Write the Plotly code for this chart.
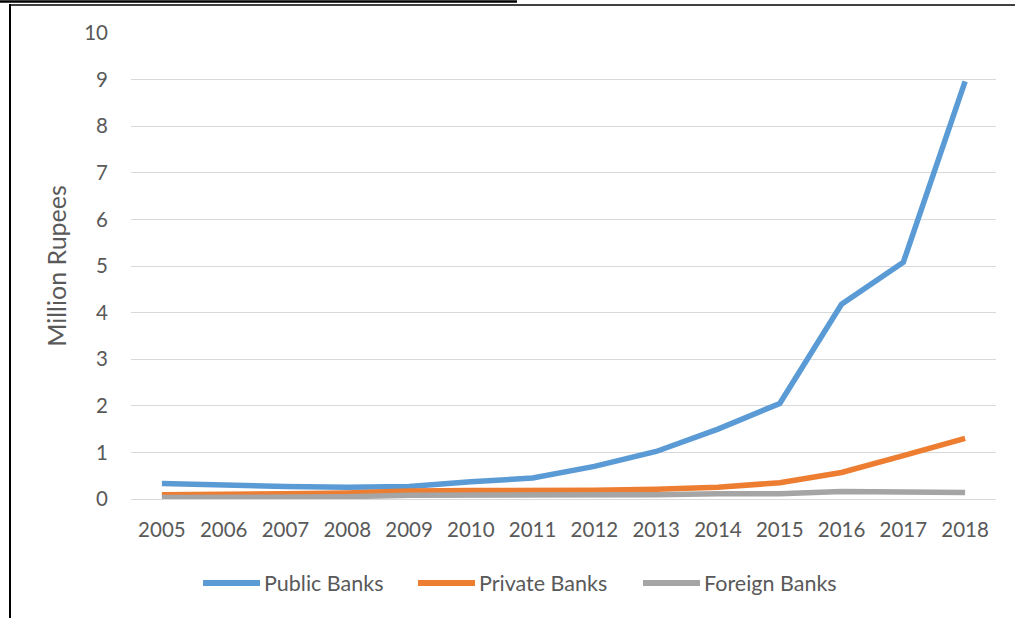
import plotly.graph_objects as go

# Deposits by bank group, million rupees
years = [2005, 2006, 2007, 2008, 2009, 2010, 2011, 2012, 2013, 2014, 2015, 2016, 2017, 2018]
public_banks = [0.33, 0.29, 0.27, 0.25, 0.27, 0.37, 0.45, 0.70, 1.02, 1.50, 2.05, 4.18, 5.08, 8.96]
private_banks = [0.09, 0.09, 0.11, 0.13, 0.17, 0.18, 0.18, 0.19, 0.21, 0.25, 0.35, 0.57, 0.93, 1.30]
foreign_banks = [0.03, 0.03, 0.04, 0.05, 0.08, 0.08, 0.07, 0.08, 0.09, 0.11, 0.11, 0.16, 0.14, 0.14]

series_names = ["Public Banks", "Private Banks", "Foreign Banks"]
series_values = [public_banks, private_banks, foreign_banks]
series_colors = ["#5B9BD5", "#ED7D31", "#A5A5A5"]

y_ticks = list(range(0, 11))

W, H = 1015, 618
ML, MR, MT, MB = 131, 19, 33, 119
PW, PH = W - ML - MR, H - MT - MB
FONT = "Lato"
TXT = "#595959"


def px(x):
    return (x - ML) / PW


def py(y):
    return (H - MB - y) / PH


fig = go.Figure()
for name, vals, col in zip(series_names, series_values, series_colors):
    fig.add_trace(go.Scatter(
        x=years, y=vals, name=name, mode="lines",
        line=dict(color=col, width=5.5),
        cliponaxis=False, showlegend=False,
    ))

shapes = []
annotations = []

# Legend row below the plot
legend_x = [203, 418, 643]
for lx, name, col in zip(legend_x, series_names, series_colors):
    shapes.append(dict(type="line", xref="paper", yref="paper",
                       x0=px(lx), x1=px(lx + 57), y0=py(583), y1=py(583),
                       line=dict(color=col, width=6)))
    annotations.append(dict(xref="paper", yref="paper", x=px(lx + 59), y=py(583),
                            text=name, showarrow=False, xanchor="left", yanchor="middle",
                            font=dict(family=FONT, size=21.5, color=TXT)))

# Frame lines around the chart
shapes.append(dict(type="line", xref="paper", yref="paper",
                   x0=px(0), x1=px(517), y0=py(1.5), y1=py(1.5),
                   line=dict(color="black", width=2.5)))
shapes.append(dict(type="line", xref="paper", yref="paper",
                   x0=px(9), x1=px(1015), y0=py(5), y1=py(5),
                   line=dict(color="black", width=1.5)))
shapes.append(dict(type="line", xref="paper", yref="paper",
                   x0=px(10), x1=px(10), y0=py(4), y1=py(618),
                   line=dict(color="black", width=2)))

fig.update_layout(
    width=W, height=H,
    margin=dict(l=ML, r=MR, t=MT, b=MB, pad=0),
    paper_bgcolor="white", plot_bgcolor="white",
    font=dict(family=FONT, size=20, color=TXT),
    shapes=shapes, annotations=annotations,
    showlegend=False,
)
fig.update_xaxes(
    range=[2004.5, 2018.5], tickvals=years, ticktext=[str(y) for y in years],
    showgrid=False, zeroline=False, showline=True, linecolor="#D9D9D9", linewidth=1,
    ticks="", ticklabelstandoff=12, tickfont=dict(family=FONT, size=20.5, color=TXT),
)
fig.update_yaxes(
    range=[0, 10], tickvals=y_ticks, showgrid=True, gridcolor="#D9D9D9", gridwidth=1,
    zeroline=False, showline=False, ticks="", ticklabelstandoff=22,
    tickfont=dict(family=FONT, size=20.5, color=TXT),
    title=dict(text="Million Rupees", standoff=10, font=dict(family=FONT, size=25, color=TXT)),
)

fig.write_html("out.html")
